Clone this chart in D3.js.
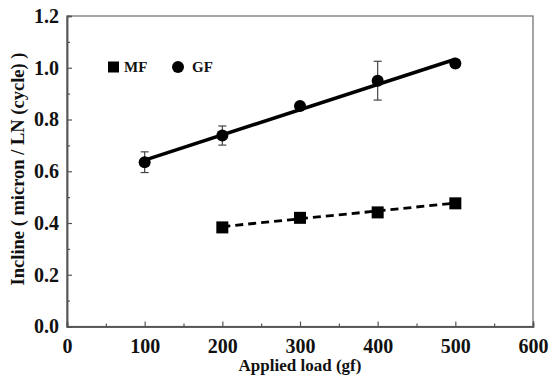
<!DOCTYPE html>
<html><head><meta charset="utf-8">
<script src="https://cdn.jsdelivr.net/npm/d3@7/dist/d3.min.js"></script>
<style>body{margin:0;background:#fff}svg{display:block}
svg text{font-family:"Liberation Serif","Times New Roman",serif;font-weight:bold;fill:#111}</style>
</head><body><svg id="c" width="549" height="381"></svg>
<script>
const gfLoad = [100, 200, 300, 400, 500];
const gfValue = [0.635, 0.738, 0.852, 0.950, 1.016];
const gfErr = [0.040, 0.037, 0.010, 0.075, 0.015];
const mfLoad = [200, 300, 400, 500];
const mfValue = [0.383, 0.420, 0.441, 0.476];
const gfFit = [[100, 0.643], [500, 1.033]];
const mfFit = [[200, 0.386], [500, 0.477]];
const xTicks = [0, 100, 200, 300, 400, 500, 600];
const yTicks = [0.0, 0.2, 0.4, 0.6, 0.8, 1.0, 1.2];

const svg = d3.select('#c');
const L = 67, R = 533, T = 16, B = 326.5;
const x = d3.scaleLinear().domain([0, 600]).range([L, R]);
const y = d3.scaleLinear().domain([0, 1.2]).range([B, T]);

// frame
svg.append('rect').attr('x', L).attr('y', T).attr('width', R - L).attr('height', B - T)
  .attr('fill', 'none').attr('stroke', '#6a6a6a').attr('stroke-width', 1.2);

// axes
const xAxis = d3.axisBottom(x).tickValues(xTicks).tickSize(-5).tickPadding(12).tickFormat(d3.format('d'));
svg.append('g').attr('transform', `translate(0,${B})`).call(xAxis);
const xMinor = d3.axisBottom(x).tickValues(d3.range(50, 600, 100)).tickSize(-3).tickFormat('');
svg.append('g').attr('transform', `translate(0,${B})`).call(xMinor);
const yAxis = d3.axisLeft(y).tickValues(yTicks).tickSize(-5).tickPadding(8).tickFormat(d3.format('.1f'));
svg.append('g').attr('transform', `translate(${L},0)`).call(yAxis);
const yMinor = d3.axisLeft(y).tickValues(d3.range(0.1, 1.2, 0.2)).tickSize(-3).tickFormat('');
svg.append('g').attr('transform', `translate(${L},0)`).call(yMinor);
svg.selectAll('.domain').attr('stroke', '#555').attr('stroke-width', 1.5);
svg.selectAll('.tick line').attr('stroke', '#555').attr('stroke-width', 1.2);
svg.selectAll('.tick text').style('font-family', '"Liberation Serif","Times New Roman",serif')
  .style('font-weight', 'bold').style('font-size', '20px').attr('fill', '#111');

// fit lines
const line = d3.line().x(d => x(d[0])).y(d => y(d[1]));
svg.append('path').datum(gfFit).attr('d', line).attr('stroke', '#000').attr('stroke-width', 3.5).attr('fill', 'none');
svg.append('path').datum(mfFit).attr('d', line).attr('stroke', '#000').attr('stroke-width', 2.8)
  .attr('stroke-dasharray', '8,5').attr('fill', 'none');

// error bars
const eb = svg.append('g').attr('stroke', '#444').attr('stroke-width', 1.2);
gfLoad.forEach((l, i) => {
  const cx = x(l), y1 = y(gfValue[i] + gfErr[i]), y2 = y(gfValue[i] - gfErr[i]);
  eb.append('line').attr('x1', cx).attr('x2', cx).attr('y1', y1).attr('y2', y2);
  eb.append('line').attr('x1', cx - 4).attr('x2', cx + 4).attr('y1', y1).attr('y2', y1);
  eb.append('line').attr('x1', cx - 4).attr('x2', cx + 4).attr('y1', y2).attr('y2', y2);
});

// markers
svg.append('g').selectAll('circle').data(gfLoad).join('circle')
  .attr('cx', d => x(d)).attr('cy', (d, i) => y(gfValue[i])).attr('r', 6).attr('fill', '#000');
svg.append('g').selectAll('rect').data(mfLoad).join('rect')
  .attr('x', d => x(d) - 6).attr('y', (d, i) => y(mfValue[i]) - 6)
  .attr('width', 12).attr('height', 12).attr('fill', '#000');

// legend
svg.append('rect').attr('x', 108).attr('y', 61.5).attr('width', 11).attr('height', 11).attr('fill', '#000');
svg.append('text').attr('x', 124).attr('y', 72).style('font-size', '15px').text('MF');
svg.append('circle').attr('cx', 178).attr('cy', 67).attr('r', 6).attr('fill', '#000');
svg.append('text').attr('x', 192).attr('y', 72).style('font-size', '15px').text('GF');

// axis titles
svg.append('text').attr('x', 300).attr('y', 371).attr('text-anchor', 'middle')
  .style('font-size', '17px').text('Applied load (gf)');
svg.append('text').attr('transform', 'translate(24,169) rotate(-90)').attr('text-anchor', 'middle')
  .style('font-size', '18.5px').text('Incline ( micron / LN (cycle) )');
</script></body></html>
